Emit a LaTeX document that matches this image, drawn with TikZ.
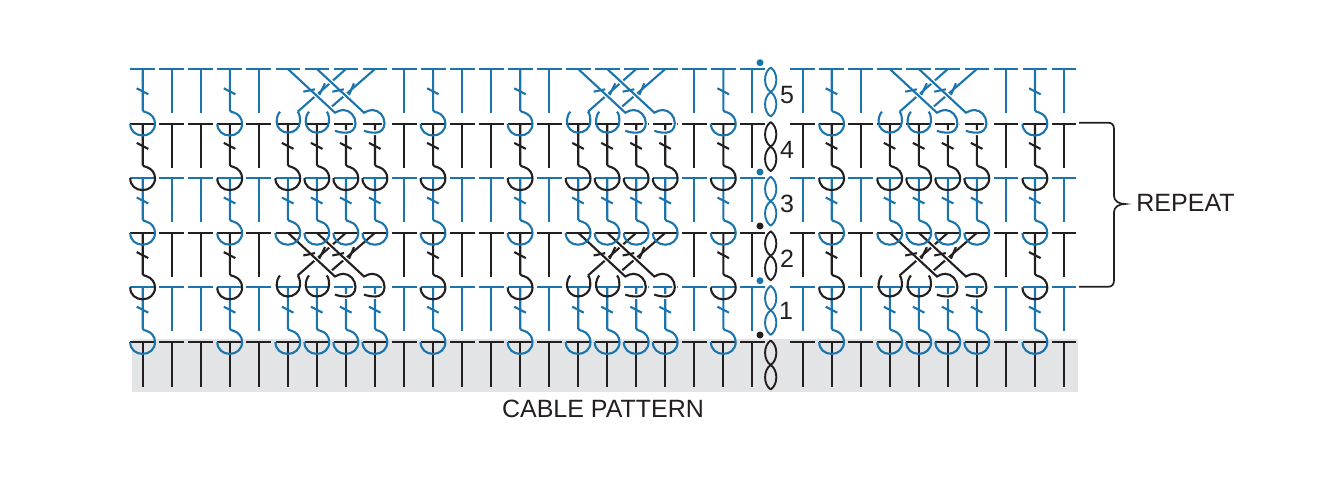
\documentclass[tikz,border=0pt]{standalone}
\usepackage{fontspec}
\setmainfont{Liberation Sans}
\definecolor{yarnblue}{HTML}{1B75AC}
\definecolor{yarnblack}{HTML}{231F20}
\definecolor{basegray}{HTML}{E3E4E6}
\begin{document}
\begin{tikzpicture}[
    x=1pt, y=-1pt,
    % --- Styles ---
    stitch/.style={line width=2.1pt},
    % White edge where a crossing strand passes over another one
    over stitch/.style={stitch, preaction={draw=white, line width=4.8pt}},
    chain leaf/.style={line width=1.9pt, line join=round},
    brace line/.style={draw=yarnblack, line width=1.7pt},
    row label/.style={font=\fontsize{25}{27}\selectfont, text=yarnblack, inner sep=0pt}
]

%================CONFIGURATION================
\def\rowsep{54.6}
\def\baseY{342}
\def\stemLen{41}

\def\plaincols{171.7,200.8,258.8,404.1,462.1,491.2,549.2,694.4,752.4,802.7,860.8,1006,1064}
\def\postcols{142.7,229.8,433.1,520.2,723.4,831.7,1035}
\def\cablecols{287.9,578.2,889.8}
%=============================================

% Plain stitch: bar and stem
\def\plainstitch#1#2#3#4{%
    \draw[stitch, #3] (#1-12.4,#2) -- (#1+12.4,#2) (#1,#2) -- (#1,#2+#4);
}

% Post stitch: plain stitch, slash and a hook round the bar below
\def\poststitch#1#2#3{%
    \begin{scope}[shift={(#1,#2)}]
        \draw[stitch, #3] (-12.4,0) -- (12.4,0);
        \draw[stitch, #3] (0,0) -- (0,\stemLen)
            .. controls (0,42.5) and (2,43) .. (4,43.5)
            .. controls (9,45) and (12.3,49.5) .. (12.3,54.6)
            .. controls (12.3,62) and (6.5,66.5) .. (0,66.5)
            .. controls (-7,66.5) and (-12.5,62) .. (-12.5,54.6);
        \draw[stitch, #3] (-6,19.3) -- (5.6,25.3);
    \end{scope}
}

% Cable: two strands behind, two strands over them
\def\cablestitch#1#2#3{%
    \begin{scope}[shift={(#1,#2)}]
        % Strands behind, each ending in an open hook
        \foreach \dx in {0,29.03} {
            \begin{scope}[xshift=\dx pt]
                \draw[stitch, #3] (9.8,42.7)
                    .. controls (12,45) and (12.1,49) .. (12.1,52.7)
                    .. controls (12.1,59) and (6,63.7) .. (0,63.7)
                    .. controls (-6,63.7) and (-11.2,59) .. (-11.2,52.7)
                    .. controls (-11.2,48.5) and (-10,45) .. (-7.9,42.7);
            \end{scope}
        }
        \draw[stitch, #3] (58.06,0) -- (9.8,42.7);
        \draw[stitch, #3] (87.09,0) -- (43.8,37.7);
        % Strands on top
        \foreach \dx in {0,29.03} {
            \begin{scope}[xshift=\dx pt]
                \draw[over stitch, #3] (0,0) -- (47.1,43.7)
                    .. controls (50,42) and (53,41) .. (55.4,41)
                    .. controls (62,41) and (67.6,47) .. (67.6,54.3)
                    .. controls (67.6,60) and (63.5,63.7) .. (58.8,63.7)
                    .. controls (54,63.7) and (50,63) .. (47.1,61.7);
            \end{scope}
        }
        % Slashes
        \draw[stitch, #3] (15.4,22.7) -- (27.1,20.3) (44.4,22.7) -- (56.1,20.3);
        \draw[stitch, #3] (31.4,26) -- (37.1,14.3) (61.1,26) -- (66.1,14.3);
        % Bars
        \foreach \dx in {0,29.03,58.06,87.09} {
            \draw[stitch, #3] (\dx-12.4,0) -- (\dx+12.4,0);
        }
    \end{scope}
}

% Chain: two leaves, one on the other
\def\chainpair#1#2{%
    \draw[chain leaf, #2] (770.7,#1) .. controls (763.2,#1+5) and (763.2,#1+19.5) .. (770.7,#1+24.5)
        .. controls (778.2,#1+19.5) and (778.2,#1+5) .. (770.7,#1) -- cycle;
    \draw[chain leaf, #2] (770.7,#1+24.5) .. controls (763.2,#1+29.5) and (763.2,#1+44) .. (770.7,#1+49)
        .. controls (778.2,#1+44) and (778.2,#1+29.5) .. (770.7,#1+24.5) -- cycle;
}

\useasboundingbox (0,0) rectangle (1320,482);

% --- 1. Foundation row ---
\fill[basegray] (132,338.5) rectangle (1078,391.5);

\foreach \x in \plaincols {\plainstitch{\x}{\baseY}{yarnblack}{45}}
\foreach \x in \postcols {\plainstitch{\x}{\baseY}{yarnblack}{45}}
\foreach \x in \cablecols {
    \foreach \dx in {0,29.03,58.06,87.09} {
        \pgfmathsetmacro{\xStitch}{\x+\dx}
        \plainstitch{\xStitch}{\baseY}{yarnblack}{45}
    }
}
\chainpair{340.5}{yarnblack}

% --- 2. Rows, bottom to top, so that each hook lies over the row below ---
\foreach \r/\yarn/\hascable in {1/yarnblue/0, 2/yarnblack/1, 3/yarnblue/0, 4/yarnblack/0, 5/yarnblue/1} {
    \pgfmathsetmacro{\yRow}{\baseY-\r*\rowsep}
    \pgfmathsetmacro{\yChain}{\yRow-1.5}

    \foreach \x in \plaincols {\plainstitch{\x}{\yRow}{\yarn}{44}}
    \foreach \x in \postcols {\poststitch{\x}{\yRow}{\yarn}}

    \foreach \x in \cablecols {
        \ifnum\hascable=1
            \cablestitch{\x}{\yRow}{\yarn}
        \else
            \foreach \dx in {0,29.03,58.06,87.09} {
                \pgfmathsetmacro{\xStitch}{\x+\dx}
                \poststitch{\xStitch}{\yRow}{\yarn}
            }
        \fi
    }
    \chainpair{\yChain}{\yarn}
}

% --- 3. Turning dots ---
\foreach \yDot/\yarn in {62.7/yarnblue, 172/yarnblue, 226/yarnblack, 280.7/yarnblue, 335/yarnblack} {
    \fill[\yarn] (760,\yDot) circle (3.5);
}

% --- 4. Row numbers ---
\node[row label] (Row5) at (787,95.3) {5};
\node[row label] (Row4) at (787,149.5) {4};
\node[row label] (Row3) at (787,204) {3};
\node[row label] (Row2) at (787,259) {2};
\node[row label] (Row1) at (786,310.5) {1};

% --- 5. Repeat brace and captions ---
\draw[brace line] (1079,122.7) -- (1108,122.7)
    .. controls (1112,122.7) and (1114,125) .. (1114,129) -- (1114,196)
    .. controls (1114,201) and (1119,204) .. (1125,204)
    .. controls (1119,204) and (1114,207) .. (1114,212) -- (1114,280)
    .. controls (1114,284.5) and (1112,286.8) .. (1108,286.8) -- (1079,286.8);

\node[row label] (Repeat) at (1185.5,203) {REPEAT};
\node[row label] (Caption) at (603,409) {CABLE PATTERN};

\end{tikzpicture}
\end{document}
